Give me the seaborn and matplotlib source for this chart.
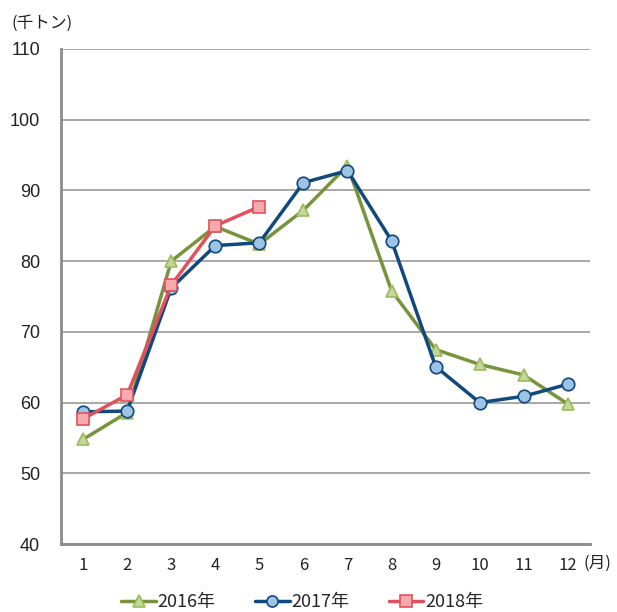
import numpy as np
import pandas as pd
import matplotlib.pyplot as plt
from matplotlib.lines import Line2D
import seaborn as sns

sns.set_style('white')
plt.rcParams['font.family'] = ['Noto Sans CJK JP', 'DejaVu Sans']

months = list(range(1, 13))
y2016 = [54.8, 58.6, 80.0, 84.9, 82.4, 87.2, 93.5, 75.8, 67.5, 65.4, 63.9, 59.8]
y2017 = [58.7, 58.8, 76.2, 82.2, 82.6, 91.1, 92.8, 82.9, 65.1, 60.0, 60.9, 62.6]
y2018 = [57.7, 61.1, 76.6, 85.0, 87.7]
labels = ['2016年', '2017年', '2018年']

df = pd.concat([
    pd.DataFrame({'month': months, 'value': y2016, 'year': labels[0]}),
    pd.DataFrame({'month': months, 'value': y2017, 'year': labels[1]}),
    pd.DataFrame({'month': months[:len(y2018)], 'value': y2018, 'year': labels[2]}),
])

lineColors = ['#77933C', '#11487E', '#E2515B']
faceColors = ['#C3D69B', '#9DC3E6', '#F6AAAE']
edgeColors = ['#9BBB59', '#11487E', '#E2515B']
markers = ['^', 'o', 's']

fig = plt.figure(figsize=(6.17, 6.12), dpi=100)
ax = fig.add_axes([0.099, 0.111, 0.857, 0.809])

for i, lab in enumerate(labels):
    sub = df[df['year'] == lab]
    sns.lineplot(data=sub, x='month', y='value', ax=ax, color=lineColors[i],
                 linewidth=2.5, marker=markers[i], markersize=9,
                 markerfacecolor=faceColors[i], markeredgecolor=edgeColors[i],
                 markeredgewidth=1.2, legend=False)

ax.set_xlim(0.5, 12.5)
ax.set_ylim(40, 110)
ax.set_yticks(np.arange(40, 111, 10))
ax.set_xticks(months)
ax.set_xticks(np.arange(0.5, 12.6, 1), minor=True)
ax.yaxis.grid(True, color='#9a9a9a', linewidth=1.2)
ax.set_axisbelow(True)
ax.set_xlabel('')
ax.set_ylabel('')
for s in ['top', 'right']:
    ax.spines[s].set_visible(False)
for s in ['left', 'bottom']:
    ax.spines[s].set_color('#8c8c8c')
    ax.spines[s].set_linewidth(2)
ax.tick_params(axis='y', which='major', length=5, width=1.2, color='#8c8c8c',
               labelsize=13, pad=10, labelcolor='#222222')
for t in ax.get_yticklabels():
    t.set_family(['Liberation Sans', 'DejaVu Sans'])
ax.tick_params(axis='x', which='major', length=0, labelsize=12, pad=9,
               labelcolor='#222222')
ax.tick_params(axis='x', which='minor', length=5, width=1.2, color='#8c8c8c',
               direction='out')

fig.text(0.018, 0.962, '(千トン)', fontsize=12, color='#222222', va='center')
fig.text(0.946, 0.080, '(月)', fontsize=12, color='#222222', va='center')

handles = [Line2D([0], [0], color=lineColors[i], linewidth=2.5, marker=markers[i],
                  markersize=8, markerfacecolor=faceColors[i],
                  markeredgecolor=edgeColors[i], markeredgewidth=1.2)
           for i in range(3)]
fig.legend(handles, labels, loc='center', bbox_to_anchor=(0.49, 0.016), ncol=3,
           frameon=False, fontsize=13, handlelength=1.9, handletextpad=0.1,
           columnspacing=2.2)

fig.savefig('out.png', dpi=100)
